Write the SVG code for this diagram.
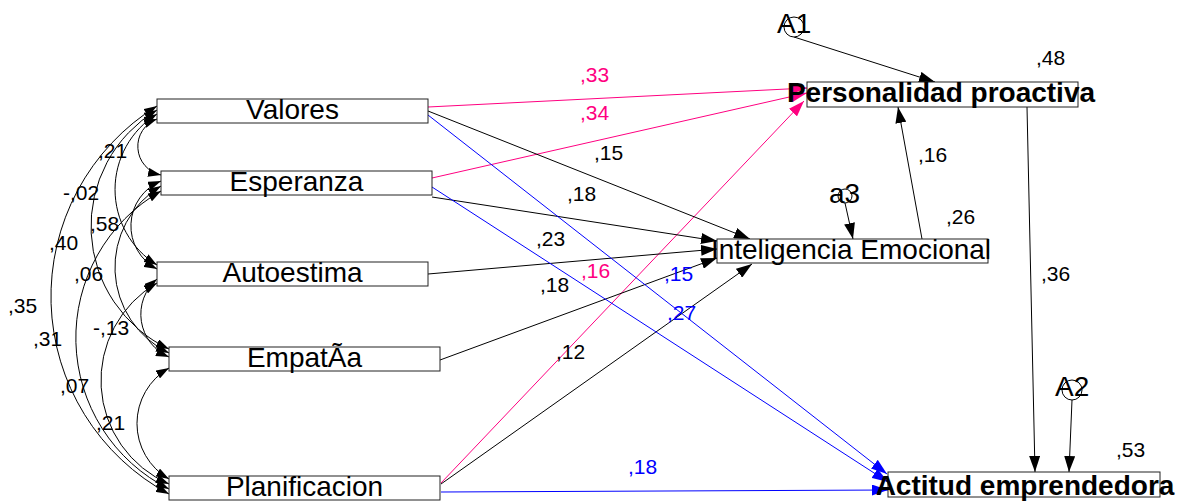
<svg xmlns="http://www.w3.org/2000/svg" width="1180" height="501" viewBox="0 0 1180 501">
<style>
.box{fill:#fff;stroke:#222;stroke-width:1}
.t{font-family:"Liberation Sans",Arial,sans-serif;font-size:28px;fill:#000}
.tb{font-family:"Liberation Sans",Arial,sans-serif;font-size:28px;font-weight:bold;fill:#000}
.n{font-family:"Liberation Sans",Arial,sans-serif;font-size:21px;fill:#000}
.np{fill:#FF0080}
.nb{fill:#0000FF}
.k{fill:none;stroke:#000;stroke-width:1;marker-end:url(#ak)}
.p{fill:none;stroke:#FF0080;stroke-width:1;marker-end:url(#ap)}
.b{fill:none;stroke:#0000FF;stroke-width:1;marker-end:url(#ab)}
.c{fill:none;stroke:#000;stroke-width:1;marker-start:url(#ac);marker-end:url(#ac)}
.err{fill:#fff;stroke:#000;stroke-width:1}
</style>
<defs>
<marker id="ak" markerUnits="userSpaceOnUse" markerWidth="16" markerHeight="11" refX="16" refY="5.5" orient="auto" viewBox="0 0 16 11"><path d="M0,0 L16,5.5 L0,11 z" fill="#000"/></marker>
<marker id="ap" markerUnits="userSpaceOnUse" markerWidth="16" markerHeight="11" refX="16" refY="5.5" orient="auto" viewBox="0 0 16 11"><path d="M0,0 L16,5.5 L0,11 z" fill="#FF0080"/></marker>
<marker id="ab" markerUnits="userSpaceOnUse" markerWidth="16" markerHeight="11" refX="16" refY="5.5" orient="auto" viewBox="0 0 16 11"><path d="M0,0 L16,5.5 L0,11 z" fill="#0000FF"/></marker>
<marker id="ac" markerUnits="userSpaceOnUse" markerWidth="13" markerHeight="9" refX="13" refY="4.5" orient="auto-start-reverse" viewBox="0 0 13 9"><path d="M0,0 L13,4.5 L0,9 z" fill="#000"/></marker>
</defs>

<g id="connectors">
<path class="c" d="M157,119 A29.2,29.2 0 0 0 161,175"/>
<path class="c" d="M157,114 A88.9,88.9 0 0 0 157,265"/>
<path class="c" d="M157,110 A135.5,135.5 0 0 0 169,349"/>
<path class="c" d="M157,106 A224.2,224.2 0 0 0 169,494"/>
<path class="c" d="M161,181 A48.6,48.6 0 0 0 157,269"/>
<path class="c" d="M161,186 A94.9,94.9 0 0 0 169,353"/>
<path class="c" d="M161,191 A169.2,169.2 0 0 0 169,489"/>
<path class="c" d="M157,279 A46.5,46.5 0 0 0 169,357"/>
<path class="c" d="M157,283 A112.8,112.8 0 0 0 169,484"/>
<path class="c" d="M169,368 A64.1,64.1 0 0 0 169,479"/>
<path class="p" d="M428,107 L807,88"/>
<path class="p" d="M432,178 L807,93"/>
<path class="p" d="M441,483 L804,101"/>
<path class="k" d="M428,111 L750,239"/>
<path class="k" d="M432,197 L717,241"/>
<path class="k" d="M428,274 L717,249"/>
<path class="k" d="M440,360 L717,258"/>
<path class="k" d="M441,484 L752,264"/>
<path class="b" d="M428,115 L887,474"/>
<path class="b" d="M432,187 L888,482"/>
<path class="b" d="M441,492 L888,490"/>
<path class="k" d="M922,239 L898,107"/>
<path class="k" d="M1027,107 L1035,472"/>
<path class="k" d="M794,37 L935,82"/>
<path class="k" d="M845,203 L853,239"/>
<path class="k" d="M1072,400 L1069,472"/>
</g>

<g id="valores"><rect class="box" x="157" y="99" width="271" height="24"/><text class="t" x="292.5" y="119" text-anchor="middle">Valores</text></g>
<g id="esperanza"><rect class="box" x="161" y="171" width="271" height="24"/><text class="t" x="296.5" y="191" text-anchor="middle">Esperanza</text></g>
<g id="autoestima"><rect class="box" x="157" y="262" width="271" height="24"/><text class="t" x="292.5" y="282" text-anchor="middle">Autoestima</text></g>
<g id="empatia"><rect class="box" x="169" y="347" width="271" height="24"/><text class="t" x="304.5" y="367" text-anchor="middle">EmpatÃa</text></g>
<g id="planificacion"><rect class="box" x="169" y="476" width="271" height="24"/><text class="t" x="304.5" y="496" text-anchor="middle">Planificacion</text></g>

<g id="personalidad"><rect class="box" x="807" y="82" width="271" height="25"/><text class="tb" x="941" y="102" text-anchor="middle">Personalidad proactiva</text></g>
<g id="inteligencia"><rect class="box" x="717" y="239" width="271" height="24"/><text class="t" x="851" y="259" text-anchor="middle">Inteligencia Emocional</text></g>
<g id="actitud"><rect class="box" x="888" y="472" width="272" height="25"/><text class="tb" x="1025" y="495" text-anchor="middle">Actitud emprendedora</text></g>

<g id="A1"><circle class="err" cx="794" cy="27" r="10"/><text class="t" x="777" y="33">A1</text></g>
<g id="a3"><circle class="err" cx="845" cy="196" r="7"/><text class="t" x="829" y="203">a3</text></g>
<g id="A2"><circle class="err" cx="1072" cy="390" r="10"/><text class="t" x="1055" y="396">A2</text></g>

<g id="labels">
<text class="n np" x="580" y="82">,33</text>
<text class="n np" x="580" y="120">,34</text>
<text class="n np" x="581" y="278">,16</text>
<text class="n" x="594" y="160">,15</text>
<text class="n" x="567" y="201">,18</text>
<text class="n" x="536" y="246">,23</text>
<text class="n" x="540" y="292">,18</text>
<text class="n" x="556" y="359">,12</text>
<text class="n nb" x="664" y="281">,15</text>
<text class="n nb" x="667" y="320">,27</text>
<text class="n nb" x="628" y="474">,18</text>
<text class="n" x="1036" y="65">,48</text>
<text class="n" x="918" y="162">,16</text>
<text class="n" x="946" y="224">,26</text>
<text class="n" x="1041" y="281">,36</text>
<text class="n" x="1116" y="457">,53</text>
<text class="n" x="98" y="158">,21</text>
<text class="n" x="63" y="200">-,02</text>
<text class="n" x="90" y="231">,58</text>
<text class="n" x="49" y="250">,40</text>
<text class="n" x="74" y="281">,06</text>
<text class="n" x="8" y="313">,35</text>
<text class="n" x="33" y="346">,31</text>
<text class="n" x="93" y="335">-,13</text>
<text class="n" x="60" y="393">,07</text>
<text class="n" x="96" y="430">,21</text>
</g>
</svg>
